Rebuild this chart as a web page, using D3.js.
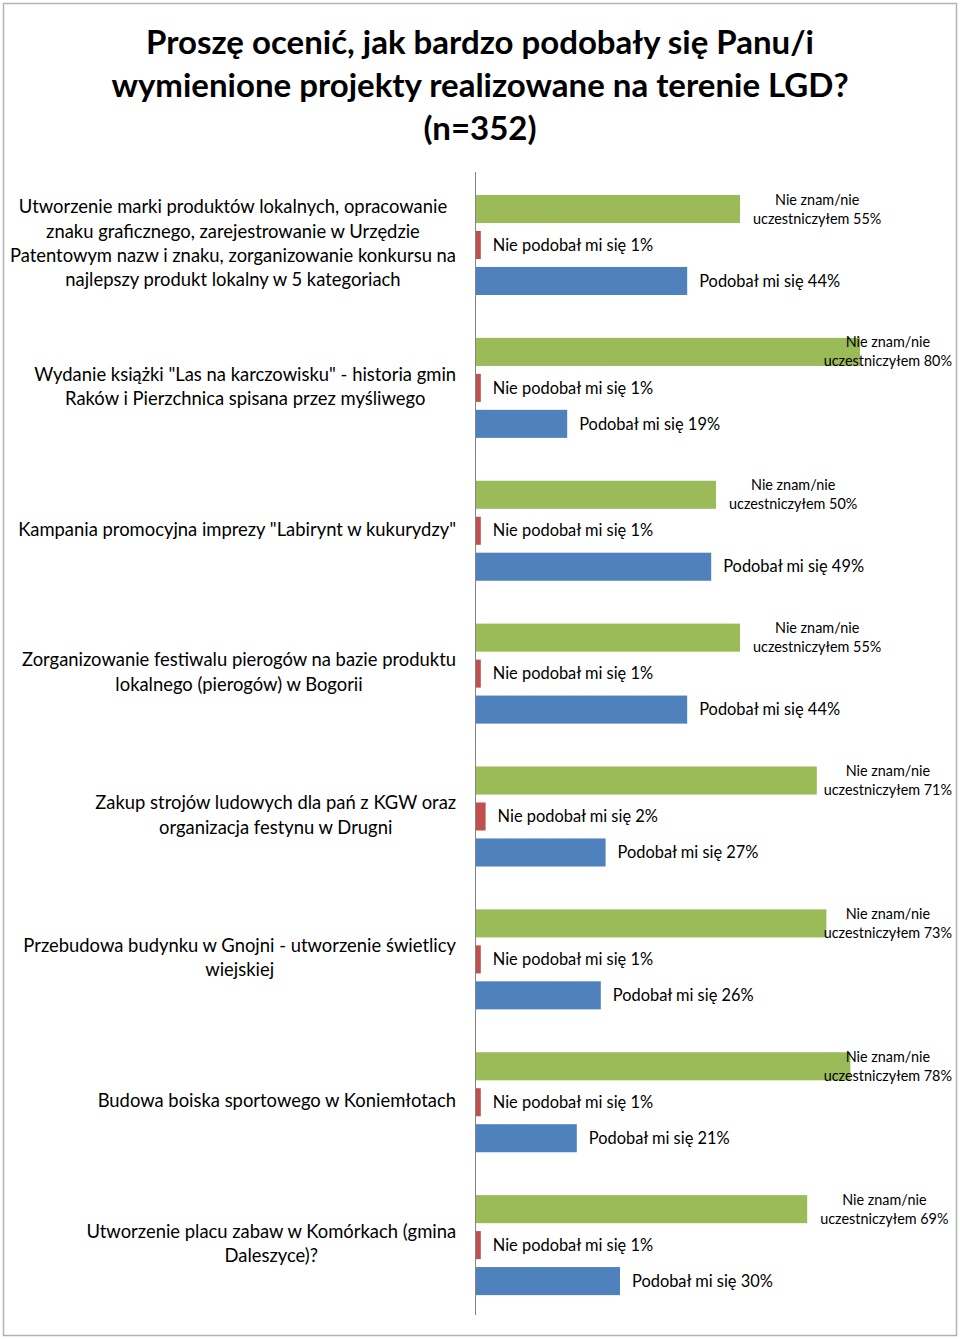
<!DOCTYPE html>
<html><head><meta charset="utf-8">
<script src="https://cdn.jsdelivr.net/npm/d3@7"></script>
<style>
body{margin:0;background:#fff;}
svg{display:block;font-family:Lato, "Open Sans", sans-serif;}
</style></head>
<body><svg id="c" width="960" height="1339"></svg>
<script>
const titleLines = ["Proszę ocenić, jak bardzo podobały się Panu/i", "wymienione projekty realizowane na terenie LGD?", "(n=352)"];
const categories = [
  ["Utworzenie marki produktów lokalnych, opracowanie", "znaku graficznego, zarejestrowanie w Urzędzie", "Patentowym nazw i znaku, zorganizowanie konkursu na", "najlepszy produkt lokalny w 5 kategoriach"],
  ["Wydanie książki \"Las na karczowisku\" - historia gmin", "Raków i Pierzchnica spisana przez myśliwego"],
  ["Kampania promocyjna imprezy \"Labirynt w kukurydzy\""],
  ["Zorganizowanie festiwalu pierogów na bazie produktu", "lokalnego (pierogów) w Bogorii"],
  ["Zakup strojów ludowych dla pań z KGW oraz", "organizacja festynu w Drugni"],
  ["Przebudowa budynku w Gnojni - utworzenie świetlicy", "wiejskiej"],
  ["Budowa boiska sportowego w Koniemłotach"],
  ["Utworzenie placu zabaw w Komórkach (gmina", "Daleszyce)?"]
];
const seriesNames = ["Nie znam/nie uczestniczyłem", "Nie podobał mi się", "Podobał mi się"];
const nieZnam   = [55, 80, 50, 55, 71, 73, 78, 69];
const niePodobal = [1, 1, 1, 1, 2, 1, 1, 1];
const podobal   = [44, 19, 49, 44, 27, 26, 21, 30];
const colors = ["#9BBB59", "#C0504D", "#4F81BD"];

const svg = d3.select("#c");
svg.append("rect").attr("x",3.5).attr("y",3.5).attr("width",953).attr("height",1332)
  .attr("fill","#fff").attr("stroke","#b3b3b3").attr("stroke-width",1.5);

// title
svg.append("g").selectAll("text").data(titleLines).join("text")
  .attr("x",480).attr("y",(d,i)=>42+i*43).attr("dy","0.35em").attr("text-anchor","middle")
  .attr("font-size",33).attr("font-weight","bold").attr("fill","#000").text(d=>d);

const series = [nieZnam, niePodobal, podobal];
const x = d3.scaleLinear().domain([0,100]).range([476,956]);
const y = d3.scaleBand().domain(d3.range(categories.length)).range([172,1315]).padding(0);
const yi = d3.scaleBand().domain([0,1,2]).range([23,123]).paddingInner(0.22).paddingOuter(0);

const groups = svg.append("g").selectAll("g").data(categories).join("g")
  .attr("transform",(d,i)=>`translate(0,${y(i)})`);

groups.each(function(cat, ci){
  const g = d3.select(this);
  series.forEach((s, si)=>{
    const v = s[ci];
    const yb = yi(si), bw = yi.bandwidth();
    g.append("rect").attr("x",x(0)).attr("y",yb).attr("width",x(v)-x(0)).attr("height",bw).attr("fill",colors[si]);
    const cy = yb + bw/2;
    if (si === 0) {
      const t = g.append("text").attr("font-size",14.4).attr("fill","#000").attr("text-anchor","middle");
      const l1 = "Nie znam/nie", l2 = "uczestniczyłem " + v + "%";
      const tmp = t.append("tspan").text(l2);
      const w = tmp.node().getComputedTextLength();
      tmp.remove();
      let left = x(v) + 13;
      if (left + w > 952) left = 952 - w;
      const cx = left + w/2;
      t.append("tspan").attr("x",cx).attr("y",cy-9.5).attr("dy","0.35em").text(l1);
      t.append("tspan").attr("x",cx).attr("y",cy+9.5).attr("dy","0.35em").text(l2);
    } else {
      g.append("text").attr("x",x(v)+12).attr("y",cy).attr("dy","0.35em")
        .attr("font-size",16.4).attr("fill","#000").text(seriesNames[si]+" "+v+"%");
    }
  });
  // category label
  const cyBand = y.bandwidth()/2;
  const lt = g.append("text").attr("font-size",18.4).attr("fill","#000").attr("text-anchor","middle");
  const lines = cat.map(l=>lt.append("tspan").text(l));
  const maxW = d3.max(lines, s=>s.node().getComputedTextLength());
  const cx = 456 - maxW/2;
  const lh = 24.3;
  lines.forEach((s,k)=>{
    s.attr("x",cx).attr("y",cyBand + (k-(cat.length-1)/2)*lh).attr("dy","0.35em");
  });
});

svg.append("line").attr("x1",475.5).attr("x2",475.5).attr("y1",172).attr("y2",1315)
  .attr("stroke","#868686").attr("stroke-width",1);
</script></body></html>
